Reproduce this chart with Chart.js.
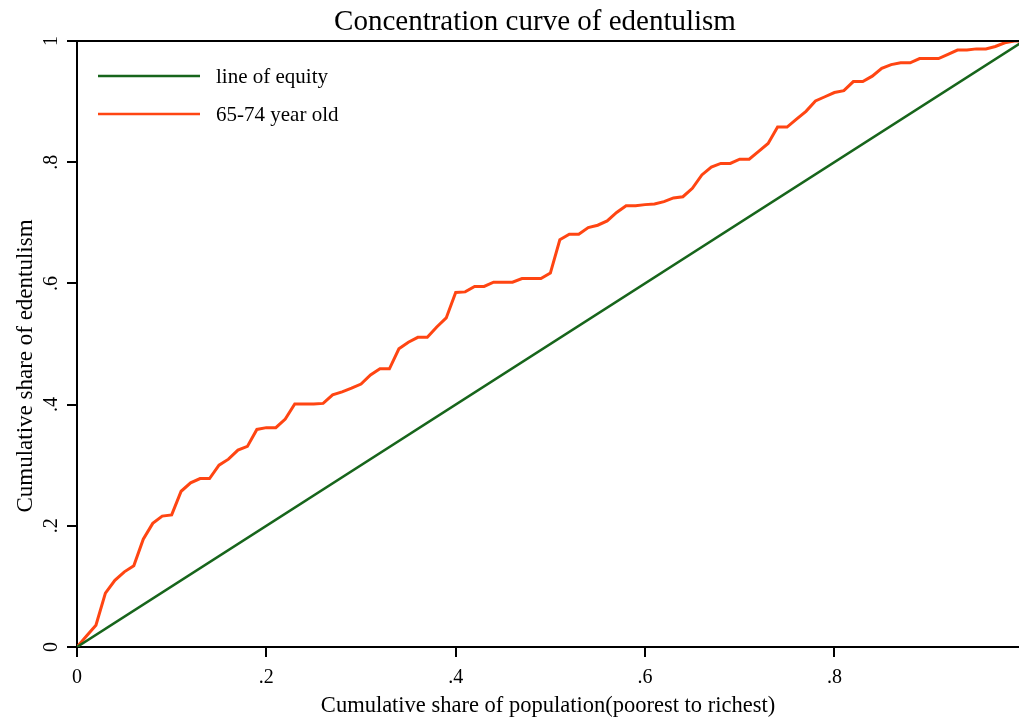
<!DOCTYPE html>
<html>
<head>
<meta charset="utf-8">
<script src="https://cdn.jsdelivr.net/npm/chart.js@4"></script>
<style>
  html, body { margin: 0; padding: 0; background: #fff; }
  #wrap { width: 1019px; height: 720px; position: relative; }
</style>
</head>
<body>
<div id="wrap"><canvas id="curve"></canvas></div>
<script>
const chartTitle = 'Concentration curve of edentulism';
const xTitle = 'Cumulative share of population(poorest to richest)';
const yTitle = 'Cumulative share of edentulism';

// cumulative share of population (x)
const popShare = [
  0, 0.01, 0.02, 0.03, 0.04, 0.05, 0.06, 0.07, 0.08, 0.09,
  0.10, 0.11, 0.12, 0.13, 0.14, 0.15, 0.16, 0.17, 0.18, 0.19,
  0.20, 0.21, 0.22, 0.23, 0.24, 0.25, 0.26, 0.27, 0.28, 0.29,
  0.30, 0.31, 0.32, 0.33, 0.34, 0.35, 0.36, 0.37, 0.38, 0.39,
  0.40, 0.41, 0.42, 0.43, 0.44, 0.45, 0.46, 0.47, 0.48, 0.49,
  0.50, 0.51, 0.52, 0.53, 0.54, 0.55, 0.56, 0.57, 0.58, 0.59,
  0.60, 0.61, 0.62, 0.63, 0.64, 0.65, 0.66, 0.67, 0.68, 0.69,
  0.70, 0.71, 0.72, 0.73, 0.74, 0.75, 0.76, 0.77, 0.78, 0.79,
  0.80, 0.81, 0.82, 0.83, 0.84, 0.85, 0.86, 0.87, 0.88, 0.89,
  0.90, 0.91, 0.92, 0.93, 0.94, 0.95, 0.96, 0.97, 0.98, 0.99, 1.0
];

// cumulative share of edentulism, 65-74 year old
const edentShare = [
  0, 0.018, 0.036, 0.089, 0.110, 0.124, 0.134, 0.178, 0.204, 0.216,
  0.218, 0.257, 0.271, 0.278, 0.278, 0.300, 0.310, 0.325, 0.331, 0.359,
  0.362, 0.362, 0.376, 0.401, 0.401, 0.401, 0.402, 0.416, 0.421, 0.427,
  0.434, 0.449, 0.459, 0.459, 0.492, 0.503, 0.511, 0.511, 0.528, 0.543,
  0.585, 0.586, 0.595, 0.595, 0.602, 0.602, 0.602, 0.608, 0.608, 0.608,
  0.617, 0.672, 0.681, 0.681, 0.692, 0.696, 0.703, 0.717, 0.728, 0.728,
  0.730, 0.731, 0.735, 0.741, 0.743, 0.757, 0.779, 0.792, 0.798, 0.798,
  0.805, 0.805, 0.818, 0.831, 0.858, 0.858, 0.871, 0.884, 0.901, 0.908,
  0.915, 0.918, 0.933, 0.933, 0.942, 0.955, 0.961, 0.964, 0.964, 0.971,
  0.971, 0.971, 0.978, 0.985, 0.985, 0.987, 0.987, 0.991, 0.997, 1.0, 1.0
];

// line of equity end points
const equityX = [0, 1];
const equityY = [0, 1];

const seriesNames = ['line of equity', '65-74 year old'];
const seriesColors = ['#17651b', '#ff4512'];

const serif = "'Liberation Serif', 'DejaVu Serif', serif";

function fmtTick(v) {
  if (Math.abs(v) < 1e-9) return '0';
  if (Math.abs(v - 1) < 1e-9) return '1';
  return String(Math.round(v * 10) / 10).replace(/^0/, '');
}

// title, y title, top frame line and in-plot legend
const decor = {
  id: 'decor',
  afterDraw(chart) {
    const c = chart.ctx;
    const a = chart.chartArea;
    c.save();
    c.strokeStyle = '#000';
    c.lineWidth = 2;
    c.beginPath();
    c.moveTo(a.left, a.top);
    c.lineTo(a.right, a.top);
    c.stroke();

    c.fillStyle = '#000';
    c.font = '29px ' + serif;
    c.textAlign = 'center';
    c.textBaseline = 'middle';
    c.fillText(chartTitle, 535, 22);

    // y axis title sits a little below the plot centre, as in the original
    c.save();
    c.translate(32, 366);
    c.rotate(-Math.PI / 2);
    c.font = '23px ' + serif;
    c.textBaseline = 'alphabetic';
    c.fillText(yTitle, 0, 0);
    c.restore();

    c.font = '21px ' + serif;
    c.textAlign = 'left';
    c.textBaseline = 'middle';
    chart.data.datasets.forEach((ds, i) => {
      const y = a.top + 35 + i * 38;
      c.strokeStyle = ds.borderColor;
      c.lineWidth = 2.6;
      c.beginPath();
      c.moveTo(a.left + 21, y);
      c.lineTo(a.left + 123, y);
      c.stroke();
      c.fillText(ds.label, a.left + 139, y + 1);
    });
    c.restore();
  }
};

new Chart(document.getElementById('curve'), {
  type: 'line',
  data: {
    datasets: [
      {
        label: seriesNames[0],
        data: equityX.map((x, i) => ({ x: x, y: equityY[i] })),
        borderColor: seriesColors[0],
        borderWidth: 2.5,
        pointRadius: 0,
        tension: 0
      },
      {
        label: seriesNames[1],
        data: popShare.map((x, i) => ({ x: x, y: edentShare[i] })),
        borderColor: seriesColors[1],
        borderWidth: 3,
        pointRadius: 0,
        tension: 0
      }
    ]
  },
  options: {
    responsive: true,
    maintainAspectRatio: false,
    animation: false,
    layout: { padding: { top: 41, right: 0, left: 0, bottom: 0 } },
    plugins: {
      legend: { display: false },
      title: { display: false },
      tooltip: { enabled: false }
    },
    scales: {
      x: {
        type: 'linear',
        min: 0,
        max: 0.995,
        afterFit(s) { s.height = 73; },
        border: { color: '#000', width: 2 },
        grid: { drawOnChartArea: false, drawTicks: true, tickLength: 10, color: '#000', lineWidth: 2 },
        ticks: {
          stepSize: 0.2,
          includeBounds: false,
          padding: 9,
          color: '#000',
          font: { family: serif, size: 20 },
          maxRotation: 0,
          callback: v => fmtTick(v)
        },
        title: {
          display: true,
          text: xTitle,
          color: '#000',
          font: { family: serif, size: 22.5 },
          padding: { top: 0, bottom: 0 }
        }
      },
      y: {
        type: 'linear',
        min: 0,
        max: 1,
        afterFit(s) { s.width = 77; },
        border: { color: '#000', width: 2 },
        grid: { drawOnChartArea: false, drawTicks: true, tickLength: 10, color: '#000', lineWidth: 2 },
        ticks: {
          stepSize: 0.2,
          minRotation: 90,
          maxRotation: 90,
          crossAlign: 'center',
          padding: 8,
          color: '#000',
          font: { family: serif, size: 20 },
          callback: v => fmtTick(v)
        },
        title: { display: false }
      }
    }
  },
  plugins: [decor]
});
</script>
</body>
</html>
